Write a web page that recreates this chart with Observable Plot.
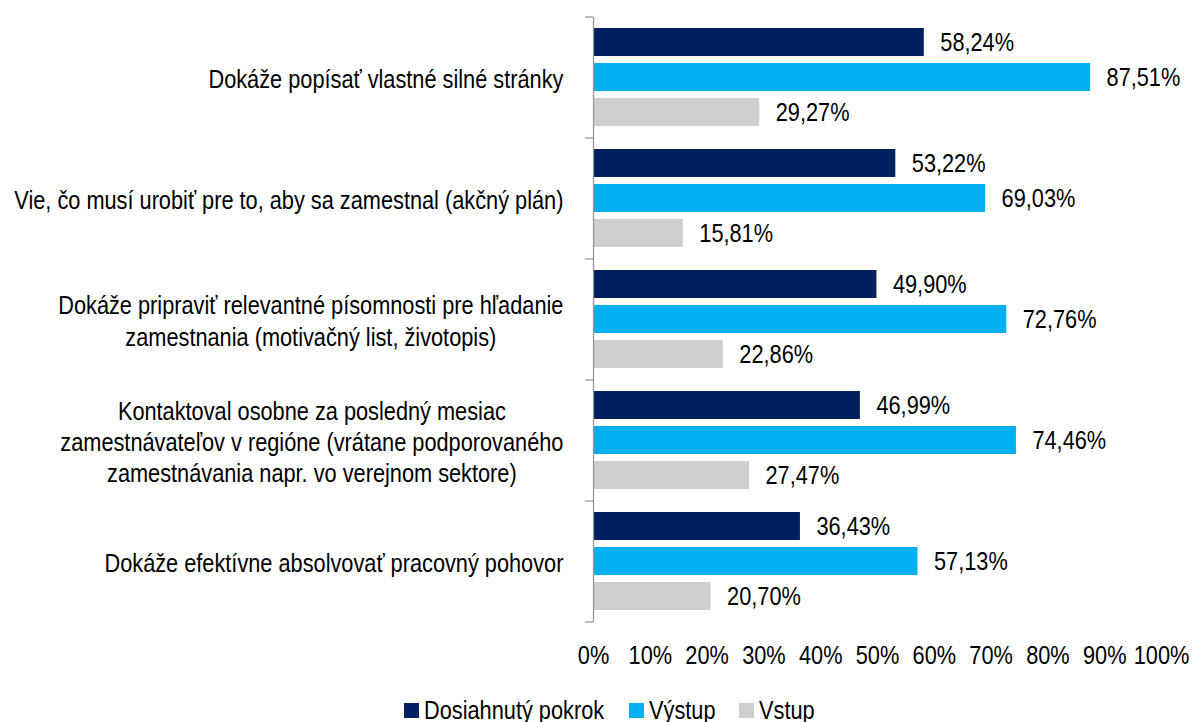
<!DOCTYPE html>
<html><head><meta charset="utf-8">
<script src="https://cdn.jsdelivr.net/npm/d3@7"></script>
<script src="https://cdn.jsdelivr.net/npm/@observablehq/plot@0.6"></script>
<style>
body{margin:0;background:#fff;font-family:"Liberation Sans",Arial,sans-serif;}
#legend{display:flex;justify-content:center;align-items:center;font-size:25px;line-height:28px;color:#000;width:1193px;padding-left:26px;box-sizing:border-box;margin-top:4px}
#legend .item{display:flex;align-items:center;margin:0 12px}
#legend .sw{width:15px;height:15px;display:inline-block;margin-right:5px}
#legend .tw{display:inline-block;overflow:visible;white-space:nowrap}
#legend .tx{display:inline-block;transform-origin:0 50%}
</style></head><body><div id="chart"></div><div id="legend"></div>
<script>
const FONT = '"Liberation Sans",Arial,sans-serif';
const categories = [
  "Dokáže popísať vlastné silné stránky",
  "Vie, čo musí urobiť pre to, aby sa zamestnal (akčný plán)",
  "Dokáže pripraviť relevantné písomnosti pre hľadanie\nzamestnania (motivačný list, životopis)",
  "Kontaktoval osobne za posledný mesiac\nzamestnávateľov v regióne (vrátane podporovaného\nzamestnávania napr. vo verejnom sektore)",
  "Dokáže efektívne absolvovať pracovný pohovor"
];
const series = ["Dosiahnutý pokrok", "Výstup", "Vstup"];
const dosiahnutyPokrok = [58.24, 53.22, 49.90, 46.99, 36.43];
const vystup = [87.51, 69.03, 72.76, 74.46, 57.13];
const vstup = [29.27, 15.81, 22.86, 27.47, 20.70];
const xTicks = [0, 10, 20, 30, 40, 50, 60, 70, 80, 90, 100];
const colors = ["#002060", "#00B0F0", "#D0CECE"];

const valuesBySeries = [dosiahnutyPokrok, vystup, vstup];
const rows = [];
categories.forEach((c, i) => series.forEach((s, j) => rows.push({cat: c, series: s, value: valuesBySeries[j][i]})));

const fontSize = 25;
const narrow = 0.87; // horizontal condensing to mimic a narrow face
const canvas = document.createElement("canvas");
const ctx = canvas.getContext("2d");
ctx.font = `${fontSize}px ${FONT}`;
const lineWidth = l => ctx.measureText(l).width * narrow;
const blockWidth = t => Math.max(...t.split("\n").map(lineWidth));

const W = 1193, H = 692, mt = 15, mb = 69, ml = 593, mr = 32;
const labelGap = 30;

const catMarks = categories.map(c => Plot.text([c], {
  fy: d => d, text: d => d, frameAnchor: "left", textAnchor: "middle",
  dx: -(labelGap + blockWidth(c) / 2), lineHeight: 1.25, fill: "#000", fontSize
}));

const plot = Plot.plot({
  width: W, height: H, marginTop: mt, marginBottom: mb, marginLeft: ml, marginRight: mr,
  style: {fontFamily: FONT, fontSize: fontSize + "px", color: "#000", background: "#fff"},
  x: {domain: [0, 100], axis: null},
  fy: {domain: categories, padding: 0, axis: null},
  y: {domain: series, paddingInner: 0.19, paddingOuter: 0.29, axis: null},
  color: {domain: series, range: colors},
  marks: [
    Plot.barX(rows, {x: "value", y: "series", fy: "cat", fill: "series"}),
    Plot.ruleX([0], {stroke: "#999", strokeWidth: 1.3}),
    Plot.text(rows, {x: "value", y: "series", fy: "cat", text: d => d.value.toFixed(2).replace(".", ",") + "%",
      textAnchor: "start", dx: 16, fill: "#000", fontSize}),
    Plot.axisX({anchor: "bottom", ticks: xTicks, tickSize: 0, tickPadding: 24, label: null, tickFormat: d => d + "%", fontSize}),
    ...catMarks
  ]
});
document.getElementById("chart").appendChild(plot);

const svg = d3.select(plot);
// condense all texts horizontally around their own anchor
svg.selectAll("text").each(function () {
  const t = this.getAttribute("transform");
  this.setAttribute("transform", (t ? t + " " : "") + `scale(${narrow},1)`);
});

// boundary tick marks on the category axis
const fy = plot.scale("fy");
const bounds = categories.map(c => fy.apply(c)).concat([fy.apply(categories[categories.length - 1]) + fy.bandwidth]);
svg.append("g").selectAll("line").data(bounds).join("line")
  .attr("x1", ml - 8).attr("x2", ml).attr("y1", d => d).attr("y2", d => d)
  .attr("stroke", "#999").attr("stroke-width", 1.3);

const legend = document.getElementById("legend");
series.forEach((s, i) => {
  const it = document.createElement("div"); it.className = "item";
  const sw = document.createElement("span"); sw.className = "sw"; sw.style.background = colors[i];
  const tw = document.createElement("span"); tw.className = "tw"; tw.style.width = lineWidth(s) + "px";
  const tx = document.createElement("span"); tx.className = "tx"; tx.textContent = s;
  tx.style.transform = `scaleX(${narrow})`;
  tw.appendChild(tx);
  it.appendChild(sw); it.appendChild(tw); legend.appendChild(it);
});
</script></body></html>
